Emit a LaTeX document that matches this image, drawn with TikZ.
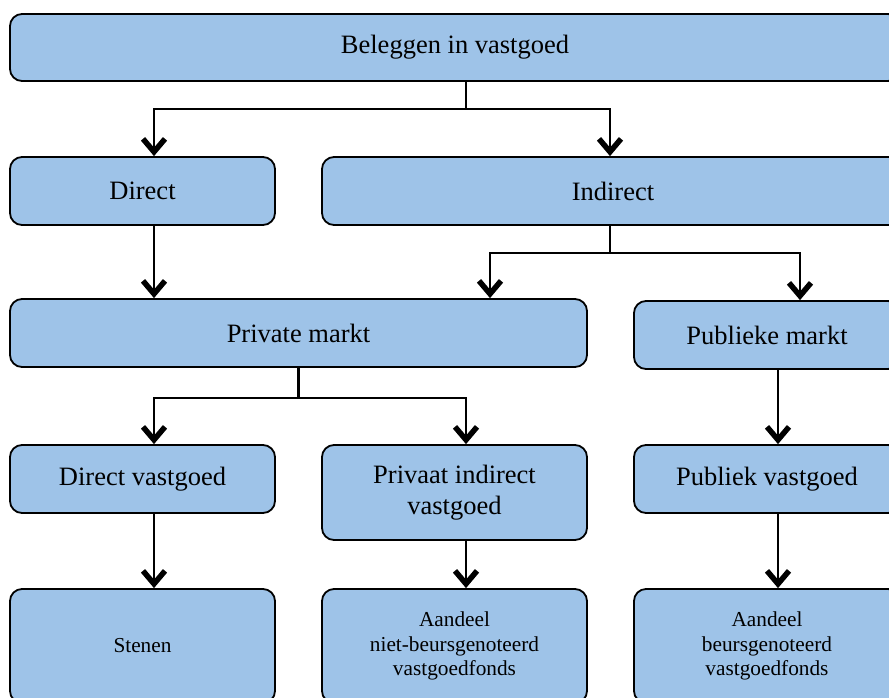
\documentclass[tikz,border=0pt]{standalone}
\usepackage{fontspec}
\setmainfont{Liberation Serif}
\usetikzlibrary{arrows.meta}
\definecolor{boxfill}{RGB}{158,195,232}
\tikzset{
  box/.style={draw=black, line width=1.8pt, fill=boxfill, rounded corners=12pt, inner sep=0pt, align=center, font=\fontsize{26.5}{31.5}\selectfont},
  smallbox/.style={box, font=\fontsize{21.3}{24.5}\selectfont},
  conn/.style={line width=2.3pt, -{Straight Barb[length=13pt,width=22pt,line width=5.5pt]}},
  line/.style={line width=2.3pt}
}
\begin{document}
\begin{tikzpicture}[x=1pt,y=-1pt]
\useasboundingbox (0,0) rectangle (889,697);
\clip (0,0) rectangle (889,697);
\fill[white] (0,0) rectangle (889,697);
\node[box, minimum width=890pt, minimum height=67pt] (top) at (455,47.5) {\raisebox{-2pt}{Beleggen in vastgoed}};
\node[box, minimum width=265pt, minimum height=68pt] (direct) at (142.5,191) {\raisebox{-1pt}{Direct}};
\node[box, minimum width=582pt, minimum height=68pt] (indirect) at (613,191) {\raisebox{-1pt}{Indirect}};
\node[box, minimum width=577pt, minimum height=68pt] (private) at (298.5,333) {\raisebox{-1pt}{Private markt}};
\node[box, minimum width=266pt, minimum height=68pt] (publieke) at (767,335) {\raisebox{-1pt}{Publieke markt}};
\node[box, minimum width=265pt, minimum height=68pt] (dv) at (142.5,479) {\raisebox{-2pt}{Direct vastgoed}};
\node[box, minimum width=265pt, minimum height=95pt] (piv) at (454.5,492.5) {Privaat indirect\\vastgoed};
\node[box, minimum width=266pt, minimum height=68pt] (pv) at (767,479) {\raisebox{-2pt}{Publiek vastgoed}};
\node[smallbox, minimum width=265pt, minimum height=114pt] (stenen) at (142.5,646) {Stenen};
\node[smallbox, minimum width=265pt, minimum height=114pt] (anb) at (454.5,646) {Aandeel\\niet-beursgenoteerd\\vastgoedfonds};
\node[smallbox, minimum width=266pt, minimum height=114pt] (ab) at (767,646) {Aandeel\\beursgenoteerd\\vastgoedfonds};
% top split
\coordinate (t1) at ([xshift=11pt]top.south);
\coordinate (t2) at ([yshift=-27pt]t1);
\draw[line] (t1) -- (t2);
\draw[conn] (t2) -| ([xshift=11.5pt]direct.north);
\draw[conn] (t2) -| ([xshift=-3pt]indirect.north);
% direct -> private
\draw[conn] ([xshift=11.5pt]direct.south) -- ([xshift=11.5pt]direct.south |- private.north);
% indirect split
\coordinate (i1) at ([xshift=-3pt]indirect.south);
\coordinate (i2) at ([yshift=-27pt]i1);
\draw[line] (i1) -- (i2);
\draw[conn] (i2) -| ([xshift=191.5pt]private.north);
\draw[conn] (i2) -| ([xshift=33pt]publieke.north);
% private split
\coordinate (p1) at (private.south);
\coordinate (p2) at ([yshift=-30pt]p1);
\draw[line] (p1) -- (p2);
\draw[conn] (p2) -| ([xshift=11.5pt]dv.north);
\draw[conn] (p2) -| ([xshift=11.5pt]piv.north);
% publieke -> pv
\draw[conn] ([xshift=11pt]publieke.south) -- ([xshift=11pt]pv.north);
% bottom
\draw[conn] ([xshift=11.5pt]dv.south) -- ([xshift=11.5pt]stenen.north);
\draw[conn] ([xshift=11.5pt]piv.south) -- ([xshift=11.5pt]anb.north);
\draw[conn] ([xshift=11pt]pv.south) -- ([xshift=11pt]ab.north);
\end{tikzpicture}
\end{document}
